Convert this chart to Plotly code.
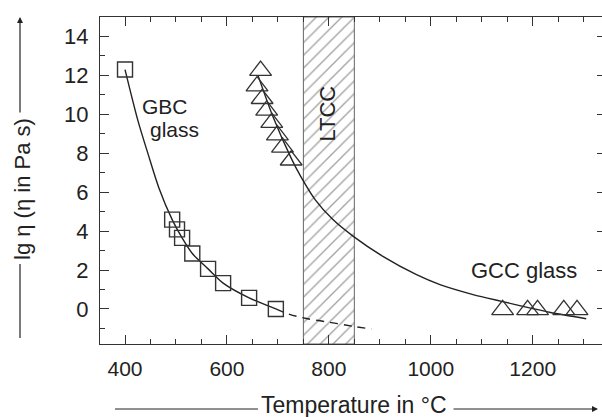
import plotly.graph_objects as go

# ---------------- data ----------------
gbc_T = [400, 492.5, 502, 512, 532, 563, 592.5, 643.5, 696]
gbc_lg = [12.3, 4.59, 4.09, 3.65, 2.85, 2.06, 1.33, 0.57, 0.0]

gbc_fit_T = [400, 425.6, 445.6, 466.5, 492.5, 512, 532, 563, 592.5, 643.5, 696]
gbc_fit_lg = [12.3, 9.65, 7.93, 6.22, 4.59, 3.65, 2.85, 2.06, 1.33, 0.57, 0.0]

gbc_ext_T = [696, 720, 750, 800, 850, 884]
gbc_ext_lg = [0.0, -0.25, -0.46, -0.68, -0.9, -1.03]

gcc_T = [666, 659, 669, 678, 688, 699, 709, 726, 1141, 1190, 1209.5, 1261, 1287]
gcc_lg = [12.25, 11.45, 10.8, 10.2, 9.57, 8.93, 8.3, 7.64, -0.05, -0.05, -0.05, -0.05, -0.05]

gcc_fit_T = [661, 690, 726, 745, 773, 808, 848, 906, 972, 1018, 1083, 1139, 1200, 1235, 1305]
gcc_fit_lg = [12.0, 9.9, 7.75, 6.8, 5.62, 4.59, 3.73, 2.7, 1.76, 1.25, 0.74, 0.39, 0.02, -0.18, -0.5]

ltcc_T = [750, 850]

x_range = [350.9, 1336]
y_range = [-1.8, 15.0]

FONT = "Liberation Sans, Arial, sans-serif"
INK = "#222222"

fig = go.Figure()

# LTCC hatched band
fig.add_trace(go.Scatter(
    x=[ltcc_T[0], ltcc_T[1], ltcc_T[1], ltcc_T[0], ltcc_T[0]],
    y=[y_range[0], y_range[0], y_range[1], y_range[1], y_range[0]],
    mode="lines", fill="toself",
    fillcolor="rgba(0,0,0,0)",
    fillpattern=dict(shape="/", fgcolor="#444444", bgcolor="white", size=9, solidity=0.15),
    line=dict(color="#666666", width=1),
    showlegend=False, hoverinfo="skip"))

# GBC fit (solid) + extrapolation (dashed)
fig.add_trace(go.Scatter(x=gbc_fit_T, y=gbc_fit_lg, mode="lines",
                         line=dict(color=INK, width=1.4, shape="spline", smoothing=0.8),
                         showlegend=False))
fig.add_trace(go.Scatter(x=gbc_ext_T, y=gbc_ext_lg, mode="lines",
                         line=dict(color=INK, width=1.4, dash="8px,6px", shape="spline"),
                         showlegend=False))
# GCC fit
fig.add_trace(go.Scatter(x=gcc_fit_T, y=gcc_fit_lg, mode="lines",
                         line=dict(color=INK, width=1.4, shape="spline", smoothing=0.8),
                         showlegend=False))

# markers
fig.add_trace(go.Scatter(x=gbc_T, y=gbc_lg, mode="markers",
                         marker=dict(symbol="square-open", size=15, color="#333333",
                                     line=dict(width=1.4, color="#333333")),
                         showlegend=False))
fig.add_trace(go.Scatter(x=gcc_T, y=gcc_lg, mode="markers",
                         marker=dict(symbol="triangle-up-open", size=19, color="#333333",
                                     line=dict(width=1.3, color="#333333")),
                         showlegend=False))

# dummy trace for right tick axis
fig.add_trace(go.Scatter(x=[None], y=[None], yaxis="y2", showlegend=False))

# ---------------- layout ----------------
L, R, T, B = 100, 0, 17, 73
W, H = 602, 417
pw, ph = W - L - R, H - T - B

def px_x(px):
    return (px - L) / pw

def px_y(py):
    return (H - B - py) / ph

fig.update_layout(
    width=W, height=H,
    margin=dict(l=L, r=R, t=T, b=B),
    paper_bgcolor="white", plot_bgcolor="white",
    font=dict(family=FONT, color=INK, size=21),
    xaxis=dict(range=x_range, showgrid=False, zeroline=False,
               showline=True, linecolor="#333333", linewidth=1.3, mirror="ticks",
               ticks="inside", ticklen=9, tickwidth=1.3, tickcolor="#333333",
               tickvals=[400, 600, 800, 1000, 1200],
               minor=dict(ticks="inside", ticklen=5, tickwidth=1.2, tickcolor="#333333",
                          tickvals=[450, 500, 550, 650, 700, 750, 850, 900, 950, 1050, 1100, 1150, 1250, 1300]),
               tickfont=dict(size=21), ticklabelstandoff=6),
    yaxis=dict(range=y_range, showgrid=False, zeroline=False,
               showline=True, linecolor="#333333", linewidth=1.3,
               ticks="inside", ticklen=9, tickwidth=1.3, tickcolor="#333333",
               tickvals=[0, 2, 4, 6, 8, 10, 12, 14],
               minor=dict(ticks="inside", ticklen=5, tickwidth=1.2, tickcolor="#333333",
                          tickvals=[-1, 1, 3, 5, 7, 9, 11, 13]),
               tickfont=dict(size=22), ticklabelstandoff=6),
    yaxis2=dict(range=y_range, overlaying="y", side="right", showgrid=False,
                zeroline=False, showline=False, showticklabels=False,
                ticks="inside", ticklen=5, tickwidth=1.3, tickcolor="#333333",
                tickvals=[0, 2, 4, 6, 8, 10, 12, 14]),
)

ann = []
# text labels in data coords
ann.append(dict(x=798, y=10.03, xref="x", yref="y", text="LTCC", textangle=-90,
                showarrow=False, xanchor="center", yanchor="middle",
                font=dict(size=22, color=INK)))
ann.append(dict(x=479, y=10.42, xref="x", yref="y", text="GBC",
                showarrow=False, xanchor="center", yanchor="middle",
                font=dict(size=21, color=INK)))
ann.append(dict(x=497, y=9.2, xref="x", yref="y", text="glass",
                showarrow=False, xanchor="center", yanchor="middle",
                font=dict(size=21, color=INK)))
ann.append(dict(x=1183, y=2.0, xref="x", yref="y", text="GCC glass",
                showarrow=False, xanchor="center", yanchor="middle",
                font=dict(size=22, color=INK)))

# axis titles
ann.append(dict(x=px_x(354), y=px_y(405), xref="paper", yref="paper",
                text="Temperature in °C", showarrow=False,
                xanchor="center", yanchor="middle",
                font=dict(size=23, color=INK)))
ann.append(dict(x=px_x(22), y=px_y(189), xref="paper", yref="paper",
                text="lg η (η in Pa s)", textangle=-90, showarrow=False,
                xanchor="center", yanchor="middle",
                font=dict(size=22, color=INK)))
# arrows
ann.append(dict(x=px_x(598), y=px_y(409), xref="paper", yref="paper", text="",
                showarrow=True, arrowhead=2, arrowsize=1, arrowwidth=1.2,
                arrowcolor=INK, ax=-146, ay=0))
ann.append(dict(x=px_x(20), y=px_y(17), xref="paper", yref="paper", text="",
                showarrow=True, arrowhead=2, arrowsize=1, arrowwidth=1.2,
                arrowcolor=INK, ax=0, ay=97))
fig.update_layout(annotations=ann)

fig.add_shape(type="line", xref="paper", yref="paper",
              x0=px_x(115), x1=px_x(258), y0=px_y(409), y1=px_y(409),
              line=dict(color=INK, width=1.2))
fig.add_shape(type="line", xref="paper", yref="paper",
              x0=px_x(20), x1=px_x(20), y0=px_y(338), y1=px_y(264),
              line=dict(color=INK, width=1.2))

fig.write_html("out.html")
